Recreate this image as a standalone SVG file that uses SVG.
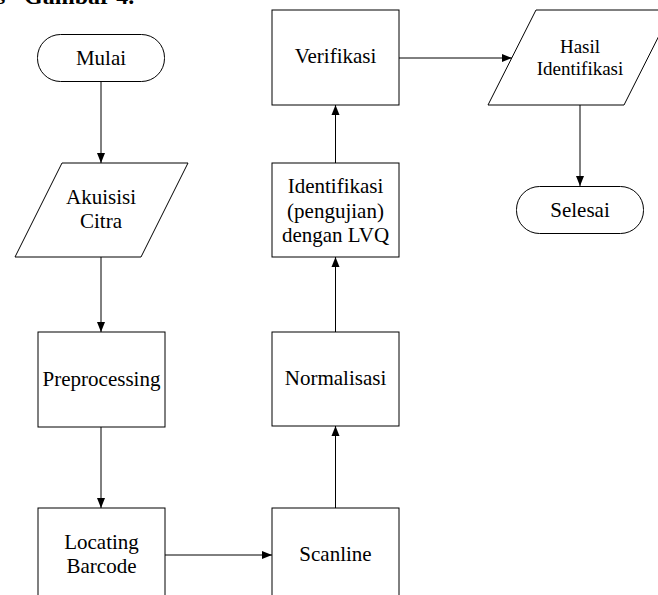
<svg xmlns="http://www.w3.org/2000/svg" width="658" height="595" viewBox="0 0 658 595">
  <style>
    .shape { fill: #ffffff; stroke: #000000; stroke-width: 1; }
    .link { fill: none; stroke: #000000; stroke-width: 1; }
    .label { font-family: "Liberation Serif", "Times New Roman", serif; font-size: 21px; fill: #000000; text-anchor: middle; }
    .small { font-size: 19px; }
    .caption { font-family: "Liberation Serif", "Times New Roman", serif; font-size: 24px; font-weight: bold; fill: #000000; }
  </style>
  <defs>
    <marker id="arrow" viewBox="0 0 10 10" refX="10" refY="5" markerWidth="10" markerHeight="10" markerUnits="userSpaceOnUse" orient="auto">
      <path d="M0,1 L10,5 L0,9 Z" fill="#000000"/>
    </marker>
  </defs>

  <rect width="658" height="595" fill="#ffffff"/>

  <!-- caption line running in from above -->
  <text class="caption" y="4"><tspan x="-4">s</tspan><tspan x="24">Gambar 4.</tspan></text>

  <!-- connectors -->
  <g id="connectors">
    <line class="link" x1="101" y1="82" x2="101" y2="163" marker-end="url(#arrow)"/>
    <line class="link" x1="101" y1="257" x2="101" y2="332" marker-end="url(#arrow)"/>
    <line class="link" x1="101" y1="427" x2="101" y2="508" marker-end="url(#arrow)"/>
    <line class="link" x1="165" y1="555" x2="272" y2="555" marker-end="url(#arrow)"/>
    <line class="link" x1="335.5" y1="508" x2="335.5" y2="426" marker-end="url(#arrow)"/>
    <line class="link" x1="335.5" y1="332" x2="335.5" y2="257" marker-end="url(#arrow)"/>
    <line class="link" x1="335.5" y1="163" x2="335.5" y2="105" marker-end="url(#arrow)"/>
    <line class="link" x1="399" y1="58" x2="512" y2="58" marker-end="url(#arrow)"/>
    <line class="link" x1="580" y1="105" x2="580" y2="186" marker-end="url(#arrow)"/>
  </g>

  <g id="mulai">
    <rect class="shape" x="37.5" y="34.5" width="127" height="47" rx="23" ry="23"/>
    <text class="label" x="101" y="65">Mulai</text>
  </g>

  <g id="akuisisi-citra">
    <polygon class="shape" points="62,163 188,163 141,257 15,257"/>
    <text class="label" x="101" y="204">Akuisisi</text>
    <text class="label" x="101" y="228">Citra</text>
  </g>

  <g id="preprocessing">
    <rect class="shape" x="38" y="332" width="127" height="95"/>
    <text class="label" x="101.5" y="386">Preprocessing</text>
  </g>

  <g id="locating-barcode">
    <rect class="shape" x="38" y="508" width="127" height="95"/>
    <text class="label" x="101.5" y="549">Locating</text>
    <text class="label" x="101.5" y="573">Barcode</text>
  </g>

  <g id="scanline">
    <rect class="shape" x="272" y="508" width="127" height="95"/>
    <text class="label" x="335.5" y="561">Scanline</text>
  </g>

  <g id="normalisasi">
    <rect class="shape" x="272" y="332" width="127" height="94"/>
    <text class="label" x="335.5" y="385">Normalisasi</text>
  </g>

  <g id="identifikasi">
    <rect class="shape" x="272" y="163" width="127" height="94"/>
    <text class="label" x="335.5" y="193">Identifikasi</text>
    <text class="label" x="335.5" y="218">(pengujian)</text>
    <text class="label" x="335.5" y="242">dengan LVQ</text>
  </g>

  <g id="verifikasi">
    <rect class="shape" x="272" y="10" width="127" height="95"/>
    <text class="label" x="335.5" y="63">Verifikasi</text>
  </g>

  <g id="hasil-identifikasi">
    <polygon class="shape" points="536,10 672,10 624,105 488,105"/>
    <text class="label small" x="580" y="53">Hasil</text>
    <text class="label small" x="580" y="75">Identifikasi</text>
  </g>

  <g id="selesai">
    <rect class="shape" x="516.5" y="186.5" width="127" height="47" rx="23" ry="23"/>
    <text class="label" x="580" y="217">Selesai</text>
  </g>
</svg>
